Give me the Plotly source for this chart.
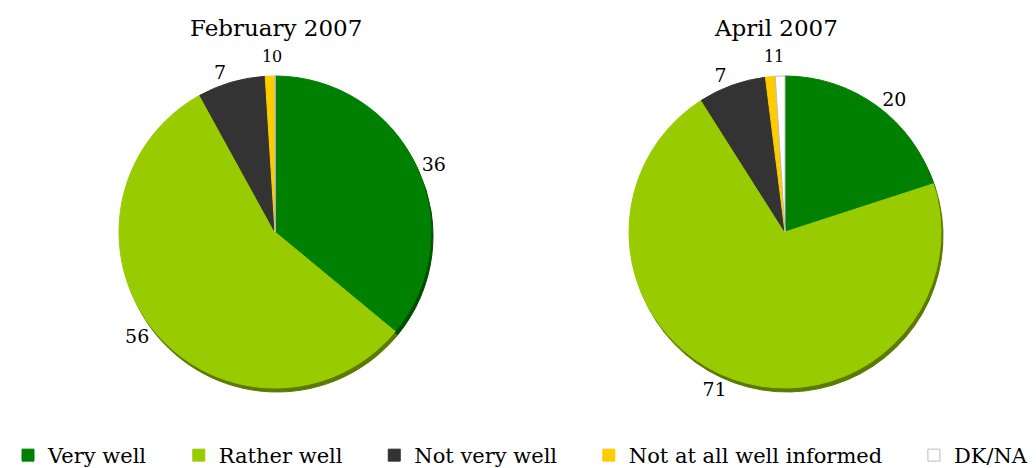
import math
import plotly.graph_objects as go

categories = ["Very well", "Rather well", "Not very well", "Not at all well informed", "DK/NA"]
feb_values = [36, 56, 7, 1, 0]
apr_values = [20, 71, 7, 1, 1]
titles = ["February 2007", "April 2007"]

colors = ["#008000", "#99CC00", "#333333", "#FFCC00", "#FFFFFF"]
line_colors = ["#008000", "#99CC00", "#333333", "#FFCC00", "#BBBBBB"]
shadow_colors = ["#004d00", "#5c7a00", "#1a1a1a", "#998000", "#BBBBBB"]
FONT = "DejaVu Serif"

W, H = 1036, 468
OFF = 8  # page offset (browser body margin)
CENTERS = [275, 785]
TITLE_X = [276, 776]
TITLE_Y = 28
CY = 232
R = 156
SMALL = 2  # slices below this value get labels stacked above the pie
PAD = "\u00a0" * 4  # extra legend spacing

legend_labels = [c + (PAD if k < len(categories) - 1 else "") for k, c in enumerate(categories)]


def px(x):
    return (x - OFF) / W


def py(y):
    return 1 - (y - OFF) / H


def dom(cx, cy, dx=0, dy=0):
    cx = cx + dx
    cy = cy + dy
    return dict(x=[px(cx - R), px(cx + R)], y=[py(cy + R), py(cy - R)])


fig = go.Figure()

# shadow pies
for i, vals in enumerate([feb_values, apr_values]):
    fig.add_trace(go.Pie(
        labels=legend_labels, values=vals, sort=False, direction="clockwise", rotation=0,
        textinfo="none", showlegend=False, hoverinfo="skip",
        marker=dict(colors=shadow_colors, line=dict(color=shadow_colors, width=1)),
        domain=dom(CENTERS[i], CY, 2, 4),
    ))

for i, vals in enumerate([feb_values, apr_values]):
    cx = CENTERS[i]
    texts = [str(v) if v >= SMALL else "" for v in vals]
    fig.add_trace(go.Pie(
        labels=legend_labels,
        values=vals,
        text=texts,
        textinfo="text",
        textposition="outside",
        sort=False,
        direction="clockwise",
        rotation=0,
        marker=dict(colors=colors, line=dict(color=line_colors, width=1)),
        textfont=dict(family=FONT, size=19, color="#000000"),
        showlegend=(i == 0),
        domain=dom(cx, CY),
        hovertemplate="%{label}: %{value}<extra></extra>",
    ))
    # small-slice labels, placed from the slice's mid-angle
    total = sum(vals)
    cum = 0
    small = []
    for v in vals:
        if v < SMALL:
            ang = 2 * math.pi * (cum + v / 2) / total
            small.append((v, ang))
        cum += v
    rr = R + 20
    xs = [cx + rr * math.sin(a) for _, a in small]
    ys = [CY - rr * math.cos(a) for _, a in small]
    mx = sum(xs) / len(xs)
    my = sum(ys) / len(ys)
    for k, (v, a) in enumerate(small):
        anchor = "right" if k == 0 else "left"
        fig.add_annotation(
            text=str(v), x=px(mx), y=py(my), xref="paper", yref="paper",
            showarrow=False, font=dict(family=FONT, size=16, color="#000000"),
            xanchor=anchor, yanchor="middle", borderpad=0, xshift=(1 if k == 0 else -1),
        )
    fig.add_annotation(
        text=titles[i], x=px(TITLE_X[i]), y=py(TITLE_Y), xref="paper", yref="paper",
        showarrow=False, font=dict(family=FONT, size=23, color="#000000"),
        xanchor="center", yanchor="middle",
    )

fig.update_layout(
    width=W, height=H,
    margin=dict(l=0, r=0, t=0, b=0),
    paper_bgcolor="white", plot_bgcolor="white",
    font=dict(family=FONT, size=19, color="#000000"),
    legend=dict(
        orientation="h", x=0, y=0.0, xanchor="left", yanchor="bottom",
        font=dict(family=FONT, size=21, color="#000000"),
        traceorder="normal", itemwidth=30,
    ),
)

fig.write_html("out.html")
